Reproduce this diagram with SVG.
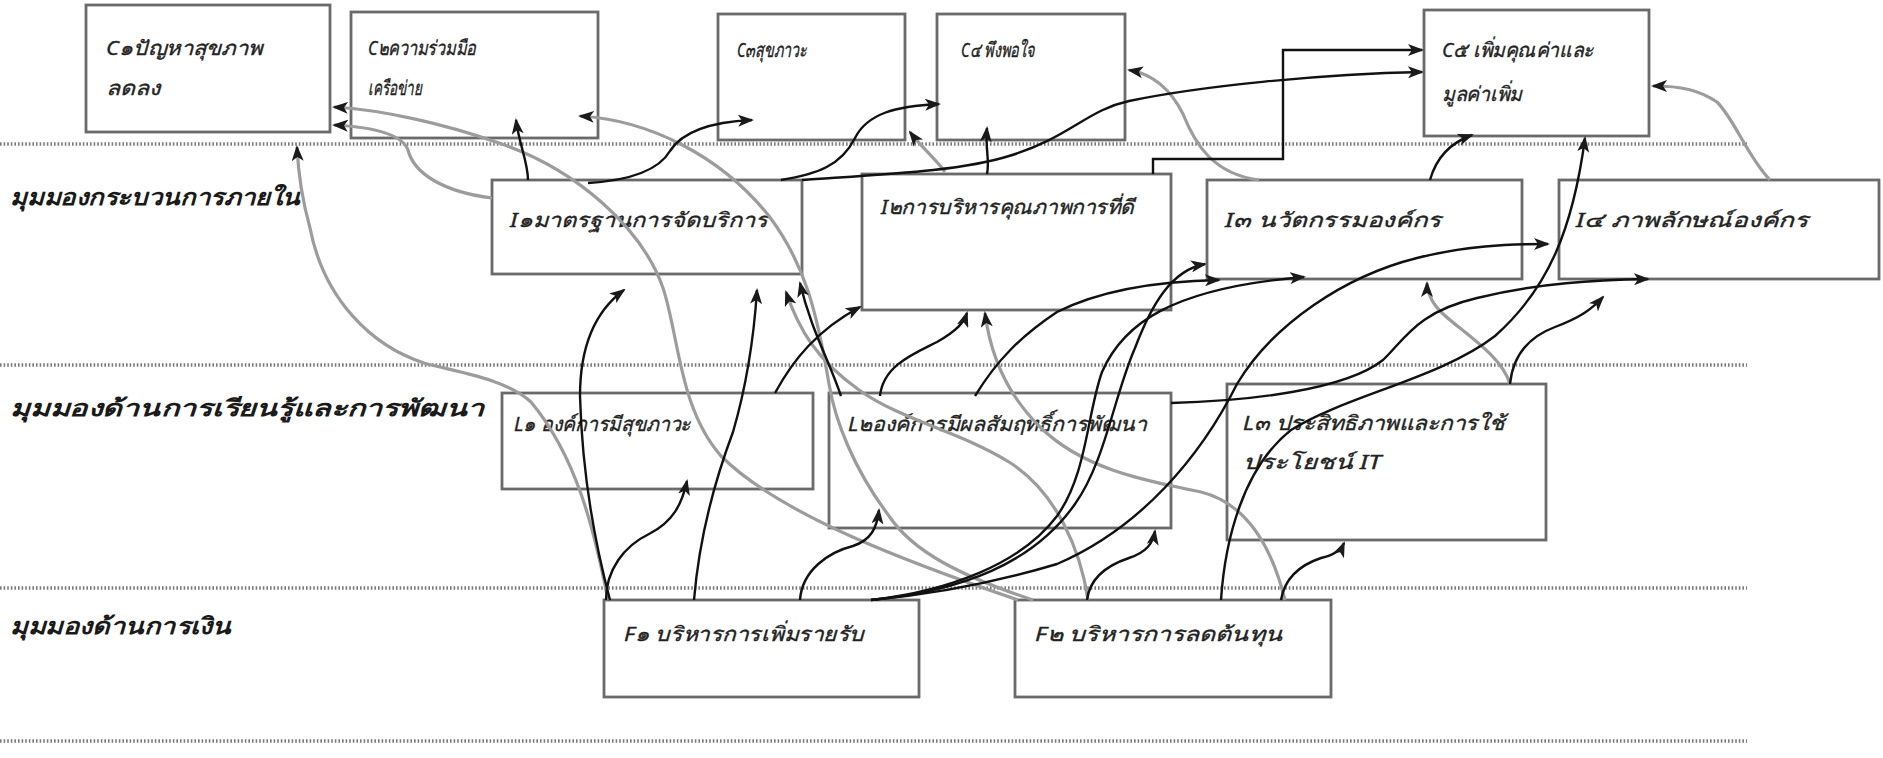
<svg xmlns="http://www.w3.org/2000/svg" width="1883" height="758" viewBox="0 0 1883 758">
<defs>
<marker id="ah" markerWidth="16" markerHeight="12" refX="14" refY="6" orient="auto" markerUnits="userSpaceOnUse">
<path d="M0,0 L16,6 L0,12 L4,6 z" fill="#1a1a1a"/>
</marker>
<style>
.box{fill:#ffffff;stroke:#6a6a6a;stroke-width:2.8}
.t{font-family:"Noto Sans","DejaVu Sans","Liberation Sans",sans-serif;font-size:20px;fill:#222;stroke:#222;stroke-width:0.35;font-style:italic}
.lab{font-family:"Noto Sans","DejaVu Sans","Liberation Sans",sans-serif;font-size:23px;font-weight:bold;fill:#1a1a1a;font-style:italic}
.dot{stroke:#7a7a7a;stroke-width:3.5;stroke-dasharray:1.6 2;fill:none}
.k{fill:none;stroke:#111;stroke-width:2.4;marker-end:url(#ah)}
.g{fill:none;stroke:#9c9c9c;stroke-width:3.2;marker-end:url(#ah)}
</style>
</defs>
<rect width="1883" height="758" fill="#ffffff"/>
<g id="dividers">
<line class="dot" x1="0" y1="144" x2="1747" y2="144"/>
<line class="dot" x1="0" y1="365" x2="1747" y2="365"/>
<line class="dot" x1="0" y1="588" x2="1747" y2="588"/>
<line class="dot" x1="0" y1="741" x2="1747" y2="741"/>
</g>
<g id="labels">
<text class="lab" x="10" y="205" textLength="290" lengthAdjust="spacingAndGlyphs">มุมมองกระบวนการภายใน</text>
<text class="lab" x="10" y="416" textLength="474" lengthAdjust="spacingAndGlyphs">มุมมองด้านการเรียนรู้และการพัฒนา</text>
<text class="lab" x="10" y="634" textLength="221" lengthAdjust="spacingAndGlyphs">มุมมองด้านการเงิน</text>
</g>
<g id="C1"><rect class="box" x="86" y="5" width="244" height="127"/>
<text class="t" x="106" y="55" textLength="156" lengthAdjust="spacingAndGlyphs">C๑ปัญหาสุขภาพ</text>
<text class="t" x="106" y="95" textLength="54" lengthAdjust="spacingAndGlyphs">ลดลง</text></g>
<g id="C2"><rect class="box" x="351" y="12" width="247" height="126"/>
<text class="t" x="368" y="55" textLength="108" lengthAdjust="spacingAndGlyphs">C๒ความร่วมมือ</text>
<text class="t" x="368" y="95" textLength="54" lengthAdjust="spacingAndGlyphs">เครือข่าย</text></g>
<g id="C3"><rect class="box" x="718" y="14" width="187" height="126"/>
<text class="t" x="737" y="57" textLength="70" lengthAdjust="spacingAndGlyphs">C๓สุขภาวะ</text></g>
<g id="C4"><rect class="box" x="937" y="14" width="188" height="126"/>
<text class="t" x="961" y="57" textLength="74" lengthAdjust="spacingAndGlyphs">C๔ พึงพอใจ</text></g>
<g id="C5"><rect class="box" x="1424" y="10" width="225" height="126"/>
<text class="t" x="1442" y="57" textLength="152" lengthAdjust="spacingAndGlyphs">C๕ เพิ่มคุณค่าและ</text>
<text class="t" x="1442" y="101" textLength="80" lengthAdjust="spacingAndGlyphs">มูลค่าเพิ่ม</text></g>
<g id="I1"><rect class="box" x="492" y="180" width="310" height="94"/>
<text class="t" x="510" y="227" textLength="258" lengthAdjust="spacingAndGlyphs">I๑มาตรฐานการจัดบริการ</text></g>
<g id="I2"><rect class="box" x="862" y="174" width="309" height="136"/>
<text class="t" x="881" y="214" textLength="253" lengthAdjust="spacingAndGlyphs">I๒การบริหารคุณภาพการที่ดี</text></g>
<g id="I3"><rect class="box" x="1207" y="180" width="315" height="99"/>
<text class="t" x="1225" y="227" textLength="216" lengthAdjust="spacingAndGlyphs">I๓ นวัตกรรมองค์กร</text></g>
<g id="I4"><rect class="box" x="1559" y="180" width="320" height="99"/>
<text class="t" x="1576" y="227" textLength="232" lengthAdjust="spacingAndGlyphs">I๔ ภาพลักษณ์องค์กร</text></g>
<g id="L1"><rect class="box" x="502" y="393" width="311" height="96"/>
<text class="t" x="514" y="431" textLength="177" lengthAdjust="spacingAndGlyphs">L๑ องค์การมีสุขภาวะ</text></g>
<g id="L2"><rect class="box" x="829" y="393" width="342" height="135"/>
<text class="t" x="848" y="431" textLength="299" lengthAdjust="spacingAndGlyphs">L๒องค์การมีผลสัมฤทธิ์การพัฒนา</text></g>
<g id="L3"><rect class="box" x="1227" y="384" width="319" height="156"/>
<text class="t" x="1243" y="430" textLength="262" lengthAdjust="spacingAndGlyphs">L๓ ประสิทธิภาพและการใช้</text>
<text class="t" x="1243" y="469" textLength="138" lengthAdjust="spacingAndGlyphs">ประโยชน์ IT</text></g>
<g id="F1"><rect class="box" x="604" y="600" width="315" height="97"/>
<text class="t" x="624" y="641" textLength="240" lengthAdjust="spacingAndGlyphs">F๑ บริหารการเพิ่มรายรับ</text></g>
<g id="F2"><rect class="box" x="1015" y="600" width="316" height="97"/>
<text class="t" x="1035" y="641" textLength="247" lengthAdjust="spacingAndGlyphs">F๒ บริหารการลดต้นทุน</text></g>
<g id="connectors">
<path class="g" d="M1018,600 C913,564 781,516 721,456 C679,408 679,336 663,288 C642,228 576,168 496,142 C444,124 384,110 334,107"/>
<path class="g" d="M608,600 C594,528 576,456 531,402 C504,378 456,372 424,363 C372,346 324,300 310,228 C300,192 298,168 297,147"/>
<path class="g" d="M1033,600 C961,576 913,552 889,516 C853,468 835,420 829,384 C817,312 805,264 769,216 C721,156 649,120 580,116"/>
<path class="g" d="M1285,600 C1273,552 1249,504 1201,492 C1141,480 1081,468 1039,426 C1009,396 991,360 985,313"/>
<path class="g" d="M1259,180 C1213,174 1195,144 1183,114 C1171,90 1153,74 1129,70"/>
<path class="g" d="M945,172 C935,158 922,148 910,132"/>
<path class="g" d="M1770,180 C1747,156 1735,120 1717,102 C1699,90 1681,86 1653,86"/>
<path class="g" d="M492,198 C444,192 414,174 408,150 C402,134 372,127 334,125"/>
<path class="g" d="M1088,600 C1081,552 1057,492 1009,462 C961,432 901,420 859,390 C817,360 799,330 786,292"/>
<path class="g" d="M1510,384 C1501,354 1459,330 1441,312 C1429,300 1427,288 1427,283"/>
<path class="k" d="M588,183 C636,180 660,168 670,151 C682,132 708,122 752,120"/>
<path class="k" d="M528,180 C528,162 519,144 516,120"/>
<path class="k" d="M781,180 C817,174 841,166 855,138 C867,114 895,106 939,104"/>
<path class="k" d="M802,180 C889,174 961,171 1009,156 C1069,138 1087,110 1129,101 C1201,86 1321,74 1422,72"/>
<path class="k" d="M987,174 C990,160 985,150 987,128"/>
<path class="k" d="M1153,174 L1153,159 L1283,159 L1283,50 L1422,50"/>
<path class="k" d="M1430,180 C1435,162 1447,144 1472,135"/>
<path class="k" d="M1221,600 C1225,540 1243,468 1291,430 C1345,396 1441,378 1495,336 C1549,288 1573,228 1585,138"/>
<path class="k" d="M871,600 C937,594 997,582 1057,564 C1141,528 1201,456 1237,384 C1273,324 1345,276 1417,258 C1465,246 1507,244 1548,244"/>
<path class="k" d="M871,600 C961,591 1033,564 1075,504 C1105,462 1114,396 1135,348 C1151,306 1171,270 1205,264"/>
<path class="k" d="M610,600 C594,540 582,468 580,396 C580,348 594,312 624,290"/>
<path class="k" d="M694,600 C699,540 715,480 733,432 C747,384 754,336 757,290"/>
<path class="k" d="M841,396 C829,360 811,330 800,283"/>
<path class="k" d="M775,393 C793,360 817,330 860,307"/>
<path class="k" d="M880,396 C883,366 913,354 937,342 C958,330 964,322 967,313"/>
<path class="k" d="M975,396 C997,360 1021,336 1057,312 C1105,288 1165,281 1219,280"/>
<path class="k" d="M871,600 C949,591 1021,564 1057,516 C1087,474 1087,414 1102,372 C1123,324 1171,288 1304,277"/>
<path class="k" d="M1171,403 C1249,401 1345,390 1383,360 C1405,339 1417,312 1477,298 C1537,283 1597,280 1648,279"/>
<path class="k" d="M1510,384 C1513,354 1531,336 1555,327 C1579,318 1591,310 1603,297"/>
<path class="k" d="M606,600 C606,570 624,546 649,534 C673,522 682,504 687,481"/>
<path class="k" d="M800,600 C802,570 829,552 853,546 C871,540 877,528 879,510"/>
<path class="k" d="M1087,600 C1090,576 1111,564 1129,558 C1147,552 1153,543 1155,531"/>
<path class="k" d="M1281,600 C1285,576 1303,564 1321,558 C1335,555 1341,550 1344,543"/>
</g>
</svg>
